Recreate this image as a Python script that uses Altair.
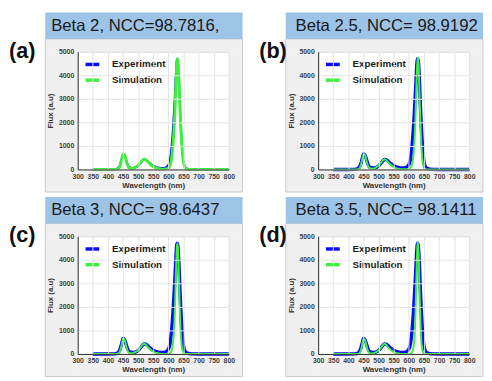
import altair as alt
import pandas as pd

# ---------------- data ----------------
wavelength = [350, 400, 420, 430, 435, 440, 445, 450, 455, 460,
              465, 470, 480, 490, 500, 510, 515, 520, 525, 530,
              540, 550, 560, 570, 580, 590, 600, 605, 610, 615,
              620, 622, 625, 628, 630, 632, 635, 638, 640, 645,
              650, 655, 660, 670, 680, 700, 750, 800]

experiment = [0, 0, 5, 30, 80, 200, 420, 660, 600, 420,
              220, 110, 60, 80, 150, 300, 380, 430, 420, 370,
              250, 160, 100, 70, 60, 80, 200, 400, 900, 1700,
              2800, 3300, 4100, 4650, 4700, 4500, 3800, 2800, 2200, 1000,
              350, 120, 50, 15, 5, 0, 0, 0]

sim_a = [0, 0, 0, 10, 40, 150, 400, 650, 630, 400,
         180, 70, 40, 90, 180, 330, 400, 430, 410, 350,
         220, 120, 60, 30, 15, 20, 60, 150, 400, 1000,
         2000, 2600, 3600, 4500, 4700, 4550, 3800, 2800, 2150, 950,
         300, 80, 20, 0, 0, 0, 0, 0]

sim_b = [0, 0, 0, 5, 30, 130, 380, 650, 620, 370,
         150, 50, 30, 80, 170, 320, 400, 430, 400, 330,
         200, 100, 45, 20, 10, 10, 20, 60, 180, 550,
         1500, 2200, 3500, 4500, 4750, 4500, 3400, 2100, 1400, 400,
         80, 15, 0, 0, 0, 0, 0, 0]

sim_c = [0, 0, 0, 5, 30, 120, 370, 650, 610, 360,
         140, 45, 25, 75, 160, 310, 400, 430, 400, 320,
         190, 95, 40, 15, 5, 5, 10, 40, 120, 420,
         1300, 2000, 3400, 4500, 4700, 4400, 3200, 1800, 1100, 250,
         40, 5, 0, 0, 0, 0, 0, 0]

sim_d = [0, 0, 0, 0, 20, 100, 340, 640, 600, 340,
         120, 35, 20, 70, 150, 300, 390, 430, 390, 300,
         170, 80, 30, 10, 0, 0, 5, 20, 60, 250,
         1000, 1700, 3200, 4500, 4750, 4400, 2900, 1500, 800, 150,
         20, 0, 0, 0, 0, 0, 0, 0]

titles = ["Beta 2, NCC=98.7816,", "Beta 2.5, NCC= 98.9192",
          "Beta 3, NCC= 98.6437", "Beta 3.5, NCC= 98.1411"]
labels = ["(a)", "(b)", "(c)", "(d)"]
series_names = ["Experiment", "Simulation"]
x_ticks = [300, 350, 400, 450, 500, 550, 600, 650, 700, 750, 800]
y_ticks = [0, 1000, 2000, 3000, 4000, 5000]

# ---------------- styling ----------------
BLUE = "#0a0aff"
GREEN = "#3ef03e"
HEADER = "#9dc3e6"
PANEL = "#f0f0f0"
FONT = "Liberation Sans"
W, H = 154, 120


def rect(x1, x2, y1, y2, **kw):
    return alt.Chart(pd.DataFrame({"k": [0]})).mark_rect(**kw).encode(
        x=alt.value(x1), x2=alt.value(x2), y=alt.value(y1), y2=alt.value(y2))


def panel(title, label, sim, left, exp_w, sim_w):
    rows = [{"wl": w, "flux": v, "series": series_names[0]} for w, v in zip(wavelength, experiment)]
    rows += [{"wl": w, "flux": v, "series": series_names[1]} for w, v in zip(wavelength, sim)]
    df = pd.DataFrame(rows)

    gx1, gx2 = -33, W + 14
    hy1, hy2 = -40, -13
    gy2 = H + 23
    tdx = -27 if left else -23
    ldx = -70 if left else -60

    strips = [
        rect(gx1, gx2, hy2, 0, color=PANEL),
        rect(gx1, 0, 0, gy2, color=PANEL),
        rect(W, gx2, 0, gy2, color=PANEL),
        rect(0, W, H, gy2, color=PANEL),
    ]
    border = rect(gx1, gx2, hy2, gy2, fillOpacity=0, stroke="#c8c8c8", strokeWidth=1)
    header = rect(gx1, gx2, hy1, hy2, color=HEADER)
    one = alt.Chart(pd.DataFrame({"k": [0]}))
    header_text = one.mark_text(text=title, align="left", baseline="middle", fontSize=17,
                                font=FONT, color="#1a1a1a").encode(
        x=alt.value(tdx), y=alt.value((hy1 + hy2) / 2))
    label_text = one.mark_text(text=label, align="left", baseline="middle", fontSize=22,
                               fontWeight="bold", font=FONT, color="#111111").encode(
        x=alt.value(ldx), y=alt.value(-1))

    X = alt.X("wl:Q", scale=alt.Scale(domain=[300, 800], nice=False, zero=False),
              axis=alt.Axis(values=x_ticks, title="Wavelength (nm)", labelOverlap=False,
                            labelFlush=False, format="d",
                            labelPadding=3, titlePadding=2, zindex=1))
    Y = alt.Y("flux:Q", scale=alt.Scale(domain=[0, 5000], nice=False),
              axis=alt.Axis(values=y_ticks, title="Flux (a.u)", labelPadding=4, titlePadding=4,
                            labelFlush=False, format="d", zindex=1))
    C = alt.Color("series:N",
                  scale=alt.Scale(domain=series_names, range=[BLUE, GREEN]),
                  legend=alt.Legend(orient="none", legendX=6, legendY=4, title=None,
                                    symbolType="stroke", symbolSize=196,
                                    symbolStrokeWidth=3.5,
                                    labelFontSize=10, labelFontWeight="bold", labelFont=FONT,
                                    labelColor="#1a1a1a", labelOffset=11, rowPadding=0, padding=0))
    base = alt.Chart(df).encode(x=X, y=Y, color=C)
    exp_line = base.transform_filter(alt.datum.series == series_names[0]).mark_line(
        strokeWidth=exp_w, interpolate="monotone")
    sim_line = base.transform_filter(alt.datum.series == series_names[1]).mark_line(
        strokeWidth=sim_w, interpolate="monotone")

    return alt.layer(*strips, border, header, header_text, label_text, exp_line, sim_line).properties(
        width=W, height=H)


panels = [
    panel(titles[0], labels[0], sim_a, True, 2, 3),
    panel(titles[1], labels[1], sim_b, False, 3.5, 2),
    panel(titles[2], labels[2], sim_c, True, 3.5, 2),
    panel(titles[3], labels[3], sim_d, False, 3.5, 2),
]

chart = alt.concat(*panels, columns=2, spacing={"row": 68, "column": 91}, bounds="flush").properties(
    padding=0
).resolve_scale(x="independent", y="independent", color="independent").resolve_legend(
    color="independent"
).configure_view(stroke="#d4d4d4").configure_axis(
    labelFont=FONT, labelFontSize=7, labelFontWeight="bold", labelColor="#404040",
    titleFont=FONT, titleFontSize=8, titleFontWeight="bold", titleColor="#333333",
    gridColor="#e3e3e3", domainColor="#333333", ticks=False
)

chart.save("out.html", embed_options={"renderer": "svg", "actions": False})
